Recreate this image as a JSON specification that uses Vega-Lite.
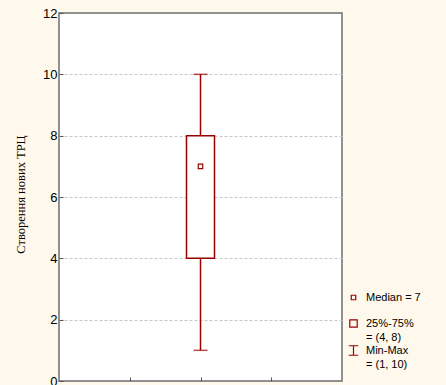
{
  "$schema": "https://vega.github.io/schema/vega-lite/v6.json",
  "width": 283,
  "height": 368,
  "autosize": "none",
  "padding": {"left": 59, "top": 13, "right": 104, "bottom": 4},
  "background": "#FEF9EC",
  "config": {
    "view": {"fill": "white", "stroke": "#6e6e6e", "strokeWidth": 1.5},
    "axis": {"labelFont": "Liberation Sans", "labelFontSize": 13, "labelColor": "black", "domain": false},
    "style": {"guide-label": {"lineHeight": 14}}
  },
  "data": {"values": [
    {"variable": "Створення нових ТРЦ", "min": 1, "q1": 4, "median": 7, "q3": 8, "max": 10, "stat": "Median = 7| "}
  ]},
  "encoding": {
    "x": {"field": "variable", "type": "nominal",
      "scale": {"type": "point", "domain": ["a", "Створення нових ТРЦ", "b"], "padding": 1},
      "axis": {"title": null, "labels": false, "grid": false, "tickSize": -4, "tickColor": "#555", "domain": false}}
  },
  "layer": [
    {
      "mark": {"type": "rule", "color": "#990000", "strokeWidth": 1.5},
      "encoding": {
        "y": {"field": "min", "type": "quantitative",
          "scale": {"domain": [0, 12], "nice": false, "zero": false},
          "axis": {"values": [0, 2, 4, 6, 8, 10, 12], "title": "Створення нових ТРЦ",
            "titleFont": "Liberation Serif", "titleFontSize": 12.5, "titleFontWeight": "normal", "titleColor": "black",
            "titleX": -39, "titleY": 181, "titleAngle": -90, "titleAlign": "center", "titleBaseline": "middle",
            "tickSize": -4, "tickColor": "#555", "labelPadding": 6,
            "gridColor": "#c8c8c8", "gridDash": [3, 2],
            "gridOpacity": {"condition": {"test": "datum.value == 0 || datum.value == 12", "value": 0}, "value": 1}}},
        "y2": {"field": "max"}
      }
    },
    {
      "mark": {"type": "tick", "color": "#990000", "size": 14, "thickness": 1.5, "orient": "horizontal"},
      "encoding": {"y": {"field": "min", "type": "quantitative"}}
    },
    {
      "mark": {"type": "tick", "color": "#990000", "size": 14, "thickness": 1.5, "orient": "horizontal"},
      "encoding": {"y": {"field": "max", "type": "quantitative"}}
    },
    {
      "mark": {"type": "bar", "width": 28, "fill": "white", "stroke": "#990000", "strokeWidth": 1.5, "orient": "vertical"},
      "encoding": {"y": {"field": "q1", "type": "quantitative"}, "y2": {"field": "q3"}}
    },
    {
      "mark": {"type": "point", "filled": false, "color": "#990000", "strokeWidth": 1.2, "opacity": 1},
      "encoding": {
        "y": {"field": "median", "type": "quantitative"},
        "shape": {"field": "stat", "type": "nominal",
          "scale": {"domain": ["Median = 7| ", "25%-75%|= (4, 8)", "Min-Max|= (1, 10)"],
            "range": ["square", "square", "M-1,-1H1M0,-1V1M-1,1H1"]},
          "legend": {"title": null, "orient": "none", "legendX": 289, "legendY": 279,
            "labelExpr": "split(datum.label, '|')", "labelFont": "Liberation Sans", "labelFontSize": 11,
            "labelColor": "black", "symbolStrokeColor": "#990000", "symbolFillColor": "transparent",
            "symbolStrokeWidth": 1.2, "rowPadding": 0, "labelOffset": 7, "labelLimit": 200}},
        "size": {"field": "stat", "type": "nominal",
          "scale": {"domain": ["Median = 7| ", "25%-75%|= (4, 8)", "Min-Max|= (1, 10)"], "range": [20, 90, 70]}}
      }
    }
  ]
}
